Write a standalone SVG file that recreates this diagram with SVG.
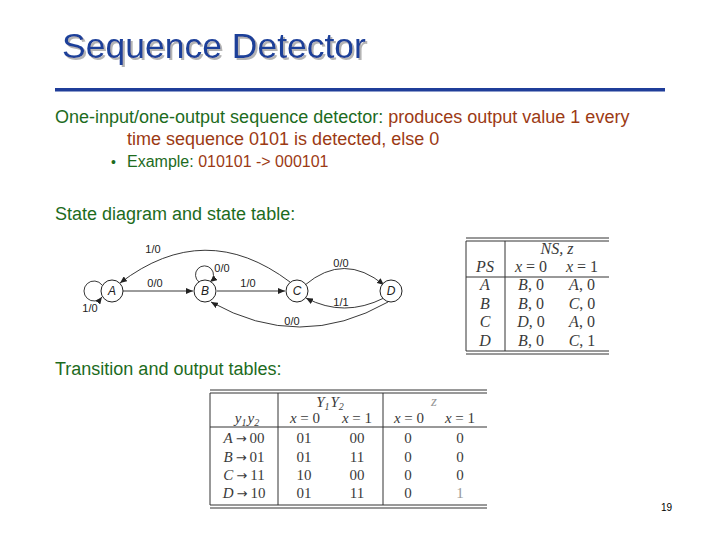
<svg xmlns="http://www.w3.org/2000/svg" width="720" height="540" viewBox="0 0 720 540">
<defs>
<marker id="ah" markerWidth="7" markerHeight="6" refX="7" refY="3" orient="auto" markerUnits="userSpaceOnUse"><path d="M0,0 L7,3 L0,6 z" fill="#222"/></marker>
<filter id="sh" x="-5%" y="-20%" width="115%" height="150%">
<feFlood flood-color="#b4b4b4" result="c"/>
<feComposite in="c" in2="SourceAlpha" operator="in" result="s"/>
<feOffset in="s" dx="2" dy="2" result="o"/>
<feMerge><feMergeNode in="o"/><feMergeNode in="SourceGraphic"/></feMerge>
</filter>
<style>
.t{font-family:"Liberation Sans",Arial,sans-serif}
.g{fill:#1d6b1d}
.r{fill:#9c3a14}
.ttl{font-family:"Liberation Sans",Arial,sans-serif;font-size:35.5px;fill:#1c3f99}
.lbl{font-family:"Liberation Sans",Arial,sans-serif;font-size:11px;fill:#222;text-anchor:middle}
.st{fill:#fff;stroke:#222;stroke-width:1}
.sl{font-family:"Liberation Sans",Arial,sans-serif;font-size:12px;font-style:italic;fill:#222;text-anchor:middle}
.e{fill:none;stroke:#222;stroke-width:0.9;marker-end:url(#ah)}
.tb{font-family:"Liberation Serif","Times New Roman",serif;font-size:15px;fill:#3a3a3a;text-anchor:middle}
.tb2{font-size:16px}
.it{font-style:italic}
.ar{font-family:"DejaVu Sans",sans-serif;font-size:13px}
.ln{stroke:#333;stroke-width:1}
.lt{fill:#999}
</style>
</defs>
<rect width="720" height="540" fill="#fff"/>
<text class="ttl" x="62" y="58" filter="url(#sh)">Sequence Detector</text>
<rect x="55" y="88" width="610" height="3.5" fill="#1f3d99"/>
<text class="t" x="55" y="123" font-size="18"><tspan class="g">One-input/one-output sequence detector: </tspan><tspan class="r">produces output value 1 every</tspan></text>
<text class="t r" x="127" y="145" font-size="18">time sequence 0101 is detected, else 0</text>
<text class="t g" x="111" y="167" font-size="14">•</text>
<text class="t" x="127" y="167" font-size="16"><tspan class="g">Example: </tspan><tspan class="r">010101 -&gt; 000101</tspan></text>
<text class="t g" x="55" y="220" font-size="18">State diagram and state table:</text>
<text class="t g" x="55" y="375" font-size="18">Transition and output tables:</text>
<g id="edges">
<line class="e" x1="123" y1="291" x2="193" y2="291"/>
<line class="e" x1="217" y1="291" x2="285" y2="291"/>
<path class="e" d="M290 282 Q205 218 120 283"/>
<path class="e" d="M305 285 Q344 252 384 285"/>
<path class="e" d="M384 298 Q344 318 306 298"/>
<path class="e" d="M388 302 Q300 352 211 302"/>
<path class="e" d="M102 285 A10 10 0 1 0 102 297"/>
<path class="e" d="M199 282 A9 9 0 1 1 210 282"/>
<text class="lbl" x="90" y="312">1/0</text>
<text class="lbl" x="155" y="287">0/0</text>
<text class="lbl" x="222" y="272">0/0</text>
<text class="lbl" x="248" y="287">1/0</text>
<text class="lbl" x="153" y="253">1/0</text>
<text class="lbl" x="341" y="267">0/0</text>
<text class="lbl" x="341" y="306">1/1</text>
<text class="lbl" x="292" y="325">0/0</text>
</g>
<g id="A"><circle class="st" cx="112" cy="291" r="11"/><text class="sl" x="112" y="295">A</text></g>
<g id="B"><circle class="st" cx="205" cy="291" r="11"/><text class="sl" x="205" y="295">B</text></g>
<g id="C"><circle class="st" cx="297" cy="291" r="11"/><text class="sl" x="297" y="295">C</text></g>
<g id="D"><circle class="st" cx="391" cy="291" r="11"/><text class="sl" x="391" y="295">D</text></g>
<g id="state-table">
<line class="ln" x1="466" y1="238" x2="609" y2="238"/>
<line class="ln" x1="466" y1="241" x2="609" y2="241"/>
<line class="ln" x1="466" y1="241" x2="466" y2="351"/>
<line class="ln" x1="505" y1="241" x2="505" y2="351"/>
<line class="ln" x1="466" y1="277" x2="609" y2="277"/>
<line class="ln" x1="466" y1="351" x2="609" y2="351"/>
<line class="ln" x1="466" y1="354" x2="609" y2="354"/>
<text class="tb tb2 it" x="557" y="254">NS, z</text>
<text class="tb tb2 it" x="485" y="272">PS</text>
<text class="tb tb2" x="531" y="272"><tspan class="it">x</tspan> = 0</text>
<text class="tb tb2" x="582" y="272"><tspan class="it">x</tspan> = 1</text>
<text class="tb tb2 it" x="485" y="290">A</text><text class="tb tb2" x="531" y="290"><tspan class="it">B</tspan>, 0</text><text class="tb tb2" x="582" y="290"><tspan class="it">A</tspan>, 0</text>
<text class="tb tb2 it" x="485" y="309">B</text><text class="tb tb2" x="531" y="309"><tspan class="it">B</tspan>, 0</text><text class="tb tb2" x="582" y="309"><tspan class="it">C</tspan>, 0</text>
<text class="tb tb2 it" x="485" y="327">C</text><text class="tb tb2" x="531" y="327"><tspan class="it">D</tspan>, 0</text><text class="tb tb2" x="582" y="327"><tspan class="it">A</tspan>, 0</text>
<text class="tb tb2 it" x="485" y="346">D</text><text class="tb tb2" x="531" y="346"><tspan class="it">B</tspan>, 0</text><text class="tb tb2" x="582" y="346"><tspan class="it">C</tspan>, 1</text>
</g>
<g id="transition-table">
<line class="ln" x1="210" y1="390" x2="487" y2="390"/>
<line class="ln" x1="210" y1="393" x2="487" y2="393"/>
<line class="ln" x1="210" y1="393" x2="210" y2="505"/>
<line class="ln" x1="278" y1="393" x2="278" y2="505"/>
<line class="ln" x1="383" y1="393" x2="383" y2="505"/>
<line class="ln" x1="210" y1="427" x2="487" y2="427"/>
<line class="ln" x1="210" y1="505" x2="487" y2="505"/>
<line class="ln" x1="210" y1="508" x2="487" y2="508"/>
<text class="tb it" x="330" y="407">Y<tspan font-size="10" dy="3">1</tspan><tspan dy="-3" dx="1">Y</tspan><tspan font-size="10" dy="3">2</tspan></text>
<text class="tb it lt" x="434" y="406" font-size="12">z</text>
<text class="tb it" x="247" y="423">y<tspan font-size="10" dy="3">1</tspan><tspan dy="-3" dx="1">y</tspan><tspan font-size="10" dy="3">2</tspan></text>
<text class="tb" x="305" y="423"><tspan class="it">x</tspan> = 0</text>
<text class="tb" x="357" y="423"><tspan class="it">x</tspan> = 1</text>
<text class="tb" x="409" y="423"><tspan class="it">x</tspan> = 0</text>
<text class="tb" x="460" y="423"><tspan class="it">x</tspan> = 1</text>
<text class="tb" x="244" y="443"><tspan class="it">A</tspan><tspan class="ar" dx="3">→</tspan><tspan dx="3">00</tspan></text><text class="tb" x="304" y="443">01</text><text class="tb" x="357" y="443">00</text><text class="tb" x="408" y="443">0</text><text class="tb" x="460" y="443">0</text>
<text class="tb" x="244" y="462"><tspan class="it">B</tspan><tspan class="ar" dx="3">→</tspan><tspan dx="3">01</tspan></text><text class="tb" x="304" y="462">01</text><text class="tb" x="357" y="462">11</text><text class="tb" x="408" y="462">0</text><text class="tb" x="460" y="462">0</text>
<text class="tb" x="244" y="480"><tspan class="it">C</tspan><tspan class="ar" dx="3">→</tspan><tspan dx="3">11</tspan></text><text class="tb" x="304" y="480">10</text><text class="tb" x="357" y="480">00</text><text class="tb" x="408" y="480">0</text><text class="tb" x="460" y="480">0</text>
<text class="tb" x="244" y="498"><tspan class="it">D</tspan><tspan class="ar" dx="3">→</tspan><tspan dx="3">10</tspan></text><text class="tb" x="304" y="498">01</text><text class="tb" x="357" y="498">11</text><text class="tb" x="408" y="498">0</text><text class="tb lt" x="460" y="498">1</text>
</g>
<text class="t" x="661" y="511" font-size="10" fill="#000">19</text>
</svg>
